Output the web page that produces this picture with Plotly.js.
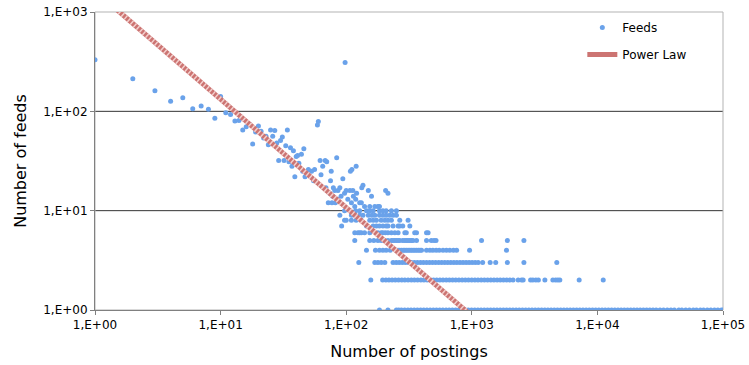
<!DOCTYPE html>
<html><head><meta charset="utf-8">
<script src="https://cdn.plot.ly/plotly-3.0.1.min.js"></script>
<style>html,body{margin:0;padding:0;background:#fff}</style>
</head><body><div id="chart" style="width:749px;height:365px"></div>
<script>
// Sparse part of the distribution: number of postings -> number of feeds
const sparsePostings = [1,2,3,4,5,6,7,8,9,10,11,12,13,14,15,16,17,18,19,20,21,22,23,24,25,26,27,28,29,30,31,32,33,34,35,36,37,38,39,40,41,42,44,45,46,47,50,53,55,56,59,60,62,63,65,68,69,70,72,74,75,76,77,78,79,81,82,84,85,86,89,91,94,97,98,100,103,107,108,110,111,113,114,117,119,120,121,128,132,133,136,140,150,154,159,169,179,184,215];
const sparseFeeds    = [331,213,161,126,137,106,113,105,85,141,97,93,80,81,65,70,74,47,62,71,63,54,56,46,65,56,64,48,32,51,55,32,45,65,31,43,28,40,22,35,36,30,37,25,42,22,26,25,20,26,73,79,32,23,28,32,17,31,12,15,20,25,12,14,17,16,12,34,13,16,17,14,21,15,311,16,13,16,25,12,26,16,14,11,13,28,15,12,12,17,18,11,16,11,14,11,11,11,15,16];

// Dense rows: postings values of the feeds counted once, twice, ...
const rowFeedCounts = [1,2,3,4,5,6,7,8,9,10];
const row1Postings = [206,215,251,262,275,292,310,328,348,369,391,414,439,466,494,523,555,588,624,661,701,743,788,835,885,939,995,1055,1118,1185,1257,1332,1412,1497,1587,1683,1784,1891,2005,2125,2253,2388,2532,2684,2845,3016,3198,3390,3593,3809,4038,4281,4538,4811,5100,5406,5731,6076,6441,6828,7238,7673,8134,8623,9141,9690,10270,10890,11540,12240,12970,13750,14580,15450,16380,17370,18410,19520,20690,21930,23250,24650,26130,27700,29360,31500,33600,36000,38500,41000,44500,47000,50500,54000,58000,61500,66000,70000,75000,80000,85500,91000,97000,100000];
const row2Postings = [184,195,207,219,232,246,261,277,293,311,330,349,370,393,416,441,468,496,525,557,590,626,663,703,745,790,838,888,941,998,1058,1121,1189,1260,1336,1416,1501,1591,1686,1787,1895,2008,2130,2340,2490,2564,2937,3063,3236,3390,3818,4419,4645,4842,5023,7160,11130];
const row3Postings = [157,169,179,190,203,236,250,264,279,295,312,330,349,369,390,412,436,461,487,515,545,576,609,644,681,720,761,805,851,900,951,1005,1063,1124,1220,1400,1550,1920,2600,4750];
const row4Postings = [126,171,184,196,208,224,251,259,267,276,285,293,302,311,321,331,341,352,363,375,387,398,436,464,490,520,550,590,628,668,714,757,960,1889];
const row5Postings = [145,154,166,179,190,203,215,229,236,244,251,259,267,282,293,302,311,321,331,340,363,436,476,500,519,1195,1920,2600];
const row6Postings = [117,124,128,132,140,154,179,190,196,205,215,229,244,259,293,301,351,363,436,449];
const row7Postings = [117,145,164,174,184,196,208,215,236,259,267,282,321];
const row8Postings = [92,100,110,120,132,154,164,174,190,203,215,229,267,311];
const row9Postings = [97,110,117,128,136,150,160,169,184,196,208,222,236,251];
const row10Postings = [89,97,107,119,128,145,154,164,184,196,208,229,251];
const rowPostings = [row1Postings,row2Postings,row3Postings,row4Postings,row5Postings,row6Postings,row7Postings,row8Postings,row9Postings,row10Postings];

// Power law fit
const powerLawCoef = 1632;
const powerLawExp = 1.091;
const powerLawX = [1, 1000];

const xTickVals = [1,10,100,1000,10000,100000];
const xTickText = ['1,E+00','1,E+01','1,E+02','1,E+03','1,E+04','1,E+05'];
const yTickVals = [1,10,100,1000];
const yTickText = ['1,E+00','1,E+01','1,E+02','1,E+03'];
const gridValues = [10,100];

// build series
let fx = sparsePostings.slice(), fy = sparseFeeds.slice();
rowPostings.forEach((arr, i) => { arr.forEach(v => { fx.push(v); fy.push(rowFeedCounts[i]); }); });
const plY = powerLawX.map(x => powerLawCoef * Math.pow(x, -powerLawExp));

const font = 'DejaVu Sans, Verdana, sans-serif';
const traces = [
  {type:'scatter', mode:'markers', name:'Feeds', x:fx, y:fy, legendgroup:'a',
   marker:{color:'#6aa2ea', size:5, line:{width:0}}},
  {type:'scatter', mode:'lines', name:'Power Law', x:powerLawX, y:plY, legendgroup:'b',
   line:{color:'#cc7472', width:5}},
  {type:'scatter', mode:'lines', name:'Power Law overlay', x:powerLawX, y:plY, showlegend:false, legendgroup:'b',
   line:{color:'#f3cfcd', width:5, dash:'1.5px,2.5px'}}
];
const shapes = gridValues.map(v => ({type:'line', xref:'paper', x0:0, x1:1, yref:'y', y0:v, y1:v,
  line:{color:'#333333', width:1}, layer:'below'}));
shapes.push({type:'rect', xref:'paper', yref:'paper', x0:0, x1:1, y0:0, y1:1, line:{color:'#b3b3b3', width:1}, layer:'below'});

const layout = {
  width:749, height:365,
  margin:{l:95, r:26, t:12, b:55},
  paper_bgcolor:'#ffffff', plot_bgcolor:'#ffffff',
  font:{family:font, color:'#000'},
  showlegend:true,
  legend:{x:0.776, y:0.997, xanchor:'left', yanchor:'top', bgcolor:'rgba(0,0,0,0)', traceorder:'grouped',
    font:{family:font, size:12, color:'#000'}, tracegroupgap:8},
  xaxis:{type:'log', range:[0,5], tickvals:xTickVals, ticktext:xTickText, ticks:'outside', ticklen:4,
    tickcolor:'#808080', showline:true, linecolor:'#808080', showgrid:false, zeroline:false,
    tickfont:{family:font, size:12}, automargin:false,
    title:{text:'Number of postings', font:{family:font, size:16}, standoff:14}},
  yaxis:{type:'log', range:[0,3], tickvals:yTickVals, ticktext:yTickText, ticks:'outside', ticklen:4,
    tickcolor:'#808080', showline:true, linecolor:'#808080', showgrid:false, zeroline:false,
    tickfont:{family:font, size:12}, automargin:false,
    title:{text:'Number of feeds', font:{family:font, size:16}, standoff:12}},
  shapes:shapes
};
Plotly.newPlot('chart', traces, layout, {displayModeBar:false, staticPlot:true});
</script></body></html>
